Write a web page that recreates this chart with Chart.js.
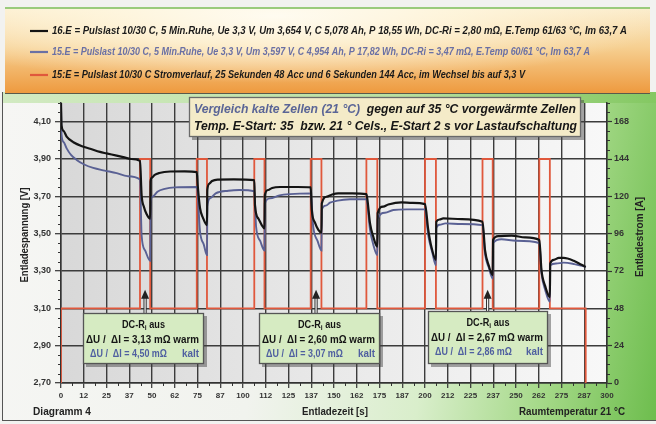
<!DOCTYPE html>
<html>
<head>
<meta charset="utf-8">
<script src="https://cdn.jsdelivr.net/npm/chart.js@4.4.1/dist/chart.umd.min.js"></script>
<style>
  html, body { margin: 0; padding: 0; }
  body { width: 656px; height: 424px; position: relative; overflow: hidden; background: #f2f2f0; }
  #frame { position: absolute; left: 2px; top: 92px; width: 654px; height: 328px;
    border-left: 1.5px solid #555; border-bottom: 1.5px solid #555;
    background: linear-gradient(100deg, #f6f6f4 0%, #f1f3ee 42%, #d9eecb 66%, #a3d886 84%, #6dbd4d 100%); }
  #strip { position: absolute; left: 3px; top: 92px; width: 653px; height: 11px;
    background: linear-gradient(90deg, #d2eac2, #b9e0a2 60%, #84c862); }
  #head { position: absolute; left: 5px; top: 7px; width: 645px; height: 84px;
    border-top: 2px solid #9acb7c; border-bottom: 1.5px solid #5a5a4a;
    background:
      radial-gradient(ellipse 62% 80% at 42% 8%, rgba(255,252,242,0.97) 0%, rgba(255,248,226,0.75) 45%, rgba(255,240,210,0) 100%),
      linear-gradient(180deg, #fbeccb 0%, #f6d092 45%, #ee9a3f 100%); }
  canvas { position: absolute; left: 0; top: 0; }
</style>
</head>
<body>
<div id="frame"></div>
<div id="strip"></div>
<div id="head"></div>
<canvas id="c" width="656" height="424"></canvas>
<script>
// ---- axis ticks ----
const timeTicks = [0, 12.5, 25, 37.5, 50, 62.5, 75, 87.5, 100, 112.5, 125, 137.5, 150,
  162.5, 175, 187.5, 200, 212.5, 225, 237.5, 250, 262.5, 275, 287.5, 300];
const timeTickLabels = ['0', '12', '25', '37', '50', '62', '75', '87', '100', '112', '125', '137', '150',
  '162', '175', '187', '200', '212', '225', '237', '250', '262', '275', '287', '300'];
const voltTicks = [2.7, 2.9, 3.1, 3.3, 3.5, 3.7, 3.9, 4.1];
const voltTickLabels = ['2,70', '2,90', '3,10', '3,30', '3,50', '3,70', '3,90', '4,10'];
const currentTicks = [0, 24, 48, 72, 96, 120, 144, 168];

// ---- 16.E: pre-warmed cell (35 °C), voltage [V] over time [s] ----
const warmTime = [0, 0.3, 1.5, 3.1, 6.8, 12.3, 16, 21.4, 25, 30.6, 34.2, 38.5, 43.4,
  44.3, 45.5, 47, 49.0,
  49.2, 50, 51.5, 54, 60, 68, 74.6,
  75.1, 76.4, 78, 80.2,
  80.4, 81.5, 83, 86, 95, 106.2,
  106.6, 108.5, 110.3, 111.8,
  112.0, 113.8, 116, 120.4, 130, 137.2,
  137.8, 139.5, 141.4, 143.1,
  143.3, 146, 149, 152.3, 160, 167.8,
  168.4, 169.8, 171.6, 173.8,
  174.0, 177, 179.8, 187, 193, 200.0,
  201.8, 203.5, 206.0,
  206.2, 208, 210, 220, 231.6,
  233, 235, 237.2,
  237.4, 240.3, 247.6, 255, 262.8,
  264, 266, 268.6,
  268.8, 270.8, 273.5, 276.2, 281.7, 286, 288.3];
const warmVolt = [4.20, 4.08, 4.05, 4.02, 3.99, 3.966, 3.955, 3.938, 3.930, 3.918, 3.910, 3.900, 3.890,
  3.705, 3.645, 3.605, 3.580,
  3.780, 3.800, 3.815, 3.825, 3.833, 3.834, 3.830,
  3.760, 3.636, 3.585, 3.546,
  3.734, 3.768, 3.782, 3.790, 3.791, 3.787,
  3.650, 3.580, 3.546, 3.528,
  3.707, 3.734, 3.745, 3.750, 3.750, 3.748,
  3.627, 3.560, 3.520, 3.505,
  3.662, 3.698, 3.710, 3.716, 3.716, 3.712,
  3.680, 3.555, 3.483, 3.430,
  3.610, 3.645, 3.656, 3.668, 3.665, 3.658,
  3.520, 3.430, 3.360,
  3.564, 3.576, 3.582, 3.578, 3.564,
  3.410, 3.330, 3.278,
  3.466, 3.487, 3.490, 3.480, 3.466,
  3.305, 3.220, 3.160,
  3.340, 3.360, 3.370, 3.370, 3.355, 3.333, 3.322];

// ---- 15.E: cold cell (21 °C), voltage [V] over time [s] ----
const coldTime = [0, 0.3, 1.5, 3.1, 5.5, 8.6, 12.5, 17.7, 24, 30.6, 36.5, 43.4,
  44.3, 46.2, 49.0,
  49.2, 50.5, 53, 57, 62.5, 74.6,
  76.4, 78.5, 80.2,
  80.4, 82, 85, 92, 98, 106.2,
  107.2, 109.5, 111.8,
  112.0, 114.8, 120, 125.8, 137.2,
  138.6, 141, 143.1,
  143.3, 145.5, 147.8, 152, 158.8, 167.8,
  169.8, 171.6, 173.8,
  174.0, 178, 182.6, 190, 200.0,
  201.8, 204, 206.0,
  206.2, 208, 211.3, 220, 231.6,
  233, 235, 237.2,
  237.4, 242, 250, 262.8,
  264, 266, 268.6,
  268.8, 272, 276.2, 282, 288.3];
const coldVolt = [4.18, 4.03, 3.99, 3.957, 3.922, 3.895, 3.872, 3.852, 3.838, 3.824, 3.808, 3.790,
  3.490, 3.410, 3.355,
  3.670, 3.700, 3.725, 3.740, 3.748, 3.750,
  3.510, 3.440, 3.385,
  3.645, 3.690, 3.716, 3.730, 3.734, 3.727,
  3.537, 3.460, 3.410,
  3.662, 3.689, 3.705, 3.712, 3.716,
  3.537, 3.460, 3.410,
  3.627, 3.650, 3.666, 3.677, 3.684, 3.685,
  3.520, 3.440, 3.385,
  3.580, 3.612, 3.627, 3.630, 3.630,
  3.490, 3.400, 3.330,
  3.530, 3.548, 3.555, 3.552, 3.546,
  3.390, 3.320, 3.260,
  3.450, 3.470, 3.462, 3.450,
  3.290, 3.200, 3.135,
  3.330, 3.340, 3.345, 3.337, 3.322];

// ---- current profile [A]: 48 A base load with 144 A pulses ----
const pulseStart = [43.4, 74.6, 106.2, 137.2, 167.8, 200.0, 231.6, 262.8];
const pulseEnd   = [49.0, 80.2, 111.8, 143.1, 173.8, 206.0, 237.2, 268.6];
const baseCurrent = 48;
const pulseCurrent = 144;
const loadEnd = 288.3;

// ---- DC-Ri read-outs (warm / kalt) at pulses 1, 4 and 7 ----
const riPulse = [0, 3, 6];
const riWarm = ['3,13', '2,60', '2,67'];
const riCold = ['4,50', '3,07', '2,86'];

// ---- legend / header texts ----
const seriesNames = [
  '16.E = Pulslast 10/30 C, 5 Min.Ruhe, Ue 3,3 V, Um 3,654 V, C 5,078 Ah, P 18,55 Wh, DC-Ri = 2,80 mΩ, E.Temp 61/63 °C, Im 63,7 A',
  '15.E = Pulslast 10/30 C, 5 Min.Ruhe, Ue 3,3 V, Um 3,597 V, C 4,954 Ah, P 17,82 Wh, DC-Ri = 3,47 mΩ, E.Temp 60/61 °C, Im 63,7 A',
  '15:E = Pulslast 10/30 C Stromverlauf, 25 Sekunden 48 Acc und 6 Sekunden 144 Acc, im Wechsel bis auf 3,3 V'
];

const BLACK = '#141414';
const BLUE = '#5a6194';
const RED = '#e0583c';
const FONT = '"Liberation Sans", Arial, sans-serif';

const toPoints = (xs, ys) => xs.map((x, i) => ({ x: x, y: ys[i] }));
const warmData = toPoints(warmTime, warmVolt);
const coldData = toPoints(coldTime, coldVolt);
const currentData = [{ x: 0, y: 0 }, { x: 0, y: baseCurrent }];
pulseStart.forEach((s, i) => {
  currentData.push({ x: s, y: baseCurrent }, { x: s, y: pulseCurrent },
                   { x: pulseEnd[i], y: pulseCurrent }, { x: pulseEnd[i], y: baseCurrent });
});
currentData.push({ x: loadEnd, y: baseCurrent }, { x: loadEnd, y: 0 });

// draws a row of coloured text runs, optionally squeezed to a given width
function drawRuns(ctx, parts, x, y, o) {
  ctx.save();
  ctx.textBaseline = 'middle';
  ctx.textAlign = 'left';
  const widths = parts.map(p => { ctx.font = p.font || o.font; return ctx.measureText(p.text).width; });
  const total = widths.reduce((a, b) => a + b, 0);
  const sx = o.width ? o.width / total : 1;
  ctx.translate(x, y);
  if (o.rotate) ctx.rotate(o.rotate);
  ctx.scale(sx, 1);
  let cx = o.align === 'center' ? -total / 2 : (o.align === 'right' ? -total : 0);
  parts.forEach((p, k) => {
    ctx.font = p.font || o.font;
    ctx.fillStyle = p.color || '#151515';
    ctx.fillText(p.text, cx, p.dy || 0);
    cx += widths[k];
  });
  ctx.restore();
}

function shadowBox(ctx, x, y, w, h, fill, stroke) {
  ctx.save();
  ctx.fillStyle = 'rgba(60,60,60,0.45)';
  ctx.fillRect(x + 3, y + 3, w, h);
  ctx.fillStyle = fill;
  ctx.fillRect(x, y, w, h);
  ctx.strokeStyle = stroke;
  ctx.lineWidth = 1.3;
  ctx.strokeRect(x + 0.5, y + 0.5, w - 1, h - 1);
  ctx.restore();
}

const decor = {
  id: 'decor',
  beforeDraw(chart) {
    const { ctx, chartArea: a } = chart;
    const g = ctx.createLinearGradient(a.left, 0, a.right, 0);
    g.addColorStop(0, '#d8d8d8');
    g.addColorStop(0.5, '#e9e9e9');
    g.addColorStop(1, '#f8f8f8');
    ctx.save();
    ctx.fillStyle = g;
    ctx.fillRect(a.left, a.top, a.right - a.left, a.bottom - a.top);
    ctx.restore();
  },
  afterDraw(chart) {
    const { ctx, chartArea: a } = chart;
    const xs = chart.scales.x, ys = chart.scales.y, is = chart.scales.y1;

    // minor ticks
    ctx.save();
    ctx.strokeStyle = '#333';
    ctx.lineWidth = 1;
    ctx.beginPath();
    for (let k = 0; k <= 30; k++) {
      if (k % 4 === 0) continue;
      const py = Math.round(ys.getPixelForValue(2.7 + k * 0.05)) + 0.5;
      ctx.moveTo(a.left - 3, py); ctx.lineTo(a.left, py);
      const qy = Math.round(is.getPixelForValue(k * 6)) + 0.5;
      ctx.moveTo(a.right, qy); ctx.lineTo(a.right + 3, qy);
    }
    for (let k = 1; k < 48; k += 2) {
      const px = Math.round(xs.getPixelForValue(k * 6.25)) + 0.5;
      ctx.moveTo(px, a.bottom); ctx.lineTo(px, a.bottom + 3);
    }
    ctx.stroke();
    ctx.restore();

    // header legend
    const rows = [
      { y: 31, line: BLACK, color: '#1a1a1a', w: 575 },
      { y: 52, line: '#6a70a4', color: '#6a70a4', w: 538 },
      { y: 75, line: RED, color: '#1a1a1a', w: 473 }
    ];
    rows.forEach((r, i) => {
      ctx.save();
      ctx.strokeStyle = r.line;
      ctx.lineWidth = 2.2;
      ctx.beginPath(); ctx.moveTo(30, r.y); ctx.lineTo(48, r.y); ctx.stroke();
      ctx.restore();
      drawRuns(ctx, [{ text: seriesNames[i], color: r.color }], 52, r.y,
               { font: 'italic bold 11px ' + FONT, width: r.w });
    });

    // title box
    shadowBox(ctx, 189, 97, 392, 40, '#f4ebc8', '#6a6a6a');
    drawRuns(ctx, [{ text: 'Vergleich kalte Zellen (21 °C)', color: '#5a6596' },
                   { text: '  gegen auf 35 °C vorgewärmte Zellen', color: '#151515' }],
             194, 109, { font: 'italic bold 13px ' + FONT, width: 382 });
    drawRuns(ctx, [{ text: 'Temp. E-Start: 35  bzw. 21 ° Cels., E-Start 2 s vor Lastaufschaltung', color: '#151515' }],
             194, 126, { font: 'italic bold 13px ' + FONT, width: 383 });

    // DC-Ri boxes with arrows pointing at the pulse they refer to
    const boxes = [[12.1, 78.6, 3.074], [108.8, 175.3, 3.074], [201.6, 267.6, 3.085]];
    boxes.forEach((b, i) => {
      const x0 = Math.round(xs.getPixelForValue(b[0]));
      const x1 = Math.round(xs.getPixelForValue(b[1]));
      const y0 = Math.round(ys.getPixelForValue(b[2]));
      const y1 = Math.round(ys.getPixelForValue(2.80));
      const p = riPulse[i];
      const ax = xs.getPixelForValue((pulseStart[p] + pulseEnd[p]) / 2);
      const tipY = ys.getPixelForValue(3.20);
      // arrow shaft
      ctx.save();
      ctx.strokeStyle = '#333'; ctx.lineWidth = 3.2;
      ctx.beginPath(); ctx.moveTo(ax, y0); ctx.lineTo(ax, tipY + 6); ctx.stroke();
      ctx.strokeStyle = '#f4f4f4'; ctx.lineWidth = 1.2;
      ctx.beginPath(); ctx.moveTo(ax, y0); ctx.lineTo(ax, tipY + 6); ctx.stroke();
      ctx.fillStyle = '#222';
      ctx.beginPath(); ctx.moveTo(ax, tipY); ctx.lineTo(ax - 4, tipY + 9); ctx.lineTo(ax + 4, tipY + 9); ctx.closePath(); ctx.fill();
      ctx.restore();

      shadowBox(ctx, x0, y0, x1 - x0, y1 - y0, '#d6ebc2', '#555');
      const cx = (x0 + x1) / 2;
      drawRuns(ctx, [{ text: 'DC-R' },
                     { text: 'i', font: 'bold 8px ' + FONT, dy: 3 },
                     { text: ' aus' }],
               cx, y0 + 12, { font: 'bold 11px ' + FONT, width: 43, align: 'center' });
      drawRuns(ctx, [{ text: 'ΔU /  ΔI = ' + riWarm[i] + ' mΩ warm', color: '#151515' }],
               x0 + 3, y0 + 27, { font: 'bold 11px ' + FONT, width: x1 - x0 - 8 });
      drawRuns(ctx, [{ text: 'ΔU /  ΔI = ' + riCold[i] + ' mΩ', color: '#4f5fa0' }],
               x0 + 7, y0 + 41, { font: 'bold 11px ' + FONT, width: 77 });
      drawRuns(ctx, [{ text: 'kalt', color: '#4f5fa0' }],
               x1 - 5, y0 + 41, { font: 'bold 11px ' + FONT, width: 17, align: 'right' });
    });

    // axis titles and footer texts
    drawRuns(ctx, [{ text: 'Entladespannung [V]', color: '#222' }], 25, 235,
             { font: 'bold 10px ' + FONT, width: 95, align: 'center', rotate: -Math.PI / 2 });
    drawRuns(ctx, [{ text: 'Entladestrom [A]', color: '#222' }], 640, 237,
             { font: 'bold 10px ' + FONT, width: 80, align: 'center', rotate: -Math.PI / 2 });
    drawRuns(ctx, [{ text: 'Entladezeit [s]', color: '#222' }], 335, 412,
             { font: 'bold 10px ' + FONT, width: 66, align: 'center' });
    drawRuns(ctx, [{ text: 'Diagramm 4', color: '#222' }], 33, 412,
             { font: 'bold 10px ' + FONT, width: 58 });
    drawRuns(ctx, [{ text: 'Raumtemperatur 21 °C', color: '#222' }], 519, 412,
             { font: 'bold 10px ' + FONT, width: 106 });
  }
};

const gridStyle = { color: '#3c3c3c', lineWidth: 1.4, tickLength: 5, tickColor: '#333', tickWidth: 1.2 };

new Chart(document.getElementById('c'), {
  type: 'line',
  data: {
    datasets: [
      { label: '16.E', data: warmData, yAxisID: 'y', borderColor: BLACK, borderWidth: 2.2,
        pointRadius: 0, cubicInterpolationMode: 'monotone', order: 1 },
      { label: '15.E', data: coldData, yAxisID: 'y', borderColor: BLUE, borderWidth: 1.9,
        pointRadius: 0, cubicInterpolationMode: 'monotone', order: 2 },
      { label: '15:E Strom', data: currentData, yAxisID: 'y1', borderColor: RED, borderWidth: 1.8,
        pointRadius: 0, tension: 0, order: 3 }
    ]
  },
  options: {
    responsive: false,
    animation: false,
    devicePixelRatio: 1,
    layout: { padding: { top: 103, left: 0, right: 0, bottom: 0 } },
    plugins: { legend: { display: false }, tooltip: { enabled: false } },
    scales: {
      x: {
        type: 'linear', min: 0, max: 300,
        afterBuildTicks: s => { s.ticks = timeTicks.map(v => ({ value: v })); },
        afterFit: s => { s.height = 41; },
        ticks: { callback: (v, i) => timeTickLabels[i], autoSkip: false, maxRotation: 0,
                 color: '#333', padding: 3, font: { family: FONT, size: 8, weight: 'bold' } },
        grid: gridStyle,
        border: { color: '#333', width: 1.5 }
      },
      y: {
        type: 'linear', position: 'left', min: 2.7, max: 4.2,
        afterBuildTicks: s => { s.ticks = voltTicks.map(v => ({ value: v })); },
        afterFit: s => { s.width = 61; },
        ticks: { callback: (v, i) => voltTickLabels[i], color: '#333', padding: 4,
                 font: { family: FONT, size: 9, weight: 'bold' } },
        grid: Object.assign({}, gridStyle, { tickLength: 6 }),
        border: { color: '#333', width: 1.5 }
      },
      y1: {
        type: 'linear', position: 'right', min: 0, max: 180,
        afterBuildTicks: s => { s.ticks = currentTicks.map(v => ({ value: v })); },
        afterFit: s => { s.width = 49; },
        ticks: { color: '#333', padding: 2, font: { family: FONT, size: 9, weight: 'bold' } },
        grid: { drawOnChartArea: false, tickLength: 5, tickColor: '#333', tickWidth: 1.2 },
        border: { color: '#333', width: 1.5 }
      }
    }
  },
  plugins: [decor]
});
</script>
</body>
</html>
